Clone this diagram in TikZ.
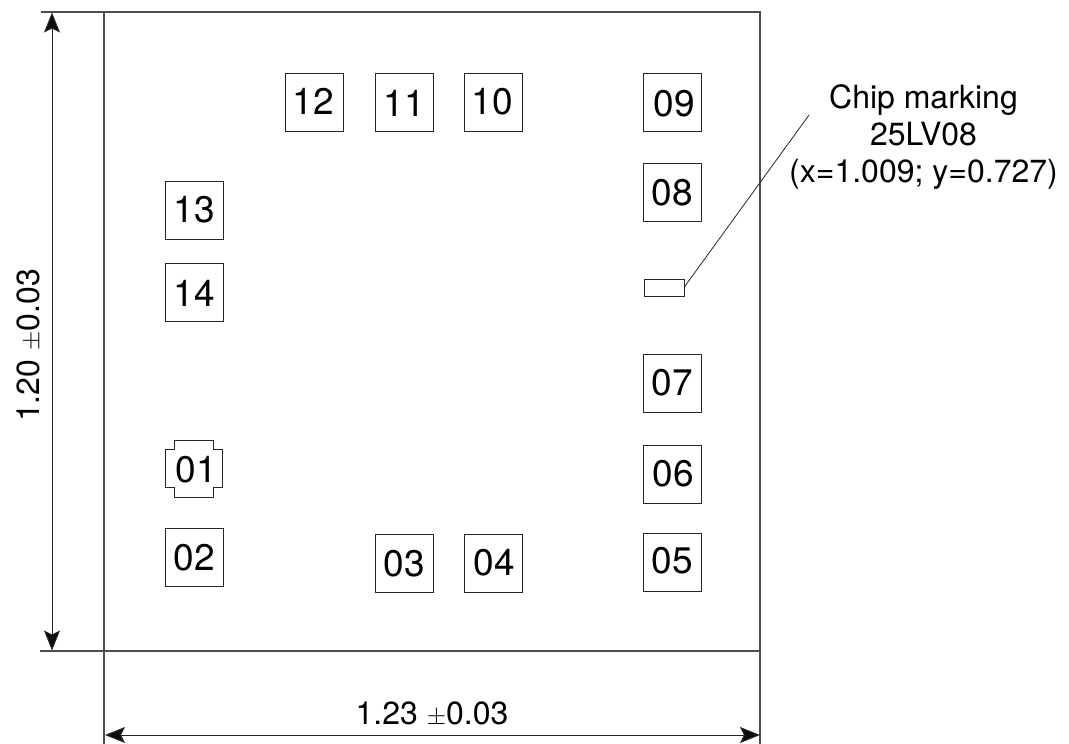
\documentclass[tikz,border=0pt]{standalone}
\usepackage{fontspec}
\setmainfont{TeX Gyre Heros}
\usetikzlibrary{arrows.meta}
\tikzset{
  x=1pt,y=-1pt,
  padbox/.style={draw=black!85,line width=1pt,minimum width=58pt,minimum height=58pt,inner sep=0pt,outer sep=0pt},
  padtext/.style={font=\fontsize{37}{37}\selectfont,inner sep=0pt},
  dimtext/.style={font=\fontsize{32}{32}\selectfont,inner sep=0pt},
  calltext/.style={font=\fontsize{32}{37}\selectfont,align=center,inner sep=0pt},
  extline/.style={draw=black!70,line width=1.1pt},
  dimarrow/.style={draw=black!85,line width=1pt,{Stealth[length=20pt,width=16pt,inset=4pt,fill=black!95]}-{Stealth[length=20pt,width=16pt,inset=4pt,fill=black!95]}},
}
\newcommand{\padat}[5]{% name, box x, box y, text x, text y
  \node[padbox] (p#1) at (#2,#3) {};
  \node[padtext] (t#1) at (#4,#5) {#1};
}
\begin{document}
\begin{tikzpicture}
\useasboundingbox (0,0) rectangle (1069,744);
% extension lines
\coordinate (tl) at (41,12); \coordinate (tr) at (761,12);
\coordinate (bl) at (40,651); \coordinate (br) at (761,651);
\coordinate (lt) at (104,12); \coordinate (lb) at (104,744);
\coordinate (rt) at (760,12); \coordinate (rb) at (760,744);
\draw[extline] (tl) -- (tr);
\draw[extline] (bl) -- (br);
\draw[extline] (lt) -- (lb);
\draw[extline] (rt) -- (rb);
% dimensions
\coordinate (vt) at (52,12.5); \coordinate (vb) at (52,650.5);
\coordinate (hl) at (105,735); \coordinate (hr) at (760,735);
\draw[dimarrow] (vt) -- (vb);
\draw[dimarrow] (hl) -- (hr);
\node[dimtext,rotate=90] (dimv) at (29,345.5) {1.20 $\pm$0.03};
\node[dimtext] (dimh) at (432,714.5) {1.23 $\pm$0.03};
% pads
\padat{12}{314}{102.5}{313}{101.5}
\padat{11}{404}{102.5}{404}{103}
\padat{10}{493}{102.5}{492.5}{101.5}
\padat{09}{672}{102.5}{674}{104}
\padat{08}{672}{192}{672.5}{192.5}
\padat{13}{194}{210.5}{194}{209.5}
\padat{14}{194}{292.5}{194}{293}
\padat{07}{672}{383.5}{672.5}{383}
\padat{06}{672}{474.5}{673}{474}
\padat{05}{672}{562}{672.5}{561}
\padat{02}{194}{557.5}{194}{558}
\padat{03}{404}{563.5}{404}{564}
\padat{04}{493}{563.5}{494.5}{563}
% pad 01 with notched corners
\draw[draw=black!85,line width=1pt] (174,440) -- (213,440) -- (213,449) -- (222,449) -- (222,487) -- (213,487) -- (213,497) -- (174,497) -- (174,487) -- (165,487) -- (165,449) -- (174,449) -- cycle;
\node[padtext] (t01) at (196,469.5) {01};
% chip marking
\node[draw=black!85,line width=1pt,minimum width=39.5pt,minimum height=17pt,inner sep=0pt,outer sep=0pt] (mark) at (664.25,287.5) {};
\coordinate (leadend) at (809,115);
\draw[black!85,line width=0.8pt] (mark.east) -- (leadend);
\node[calltext] (call) at (923.5,137) {Chip marking\\25LV08\\(x=1.009; y=0.727)};
\end{tikzpicture}
\end{document}
